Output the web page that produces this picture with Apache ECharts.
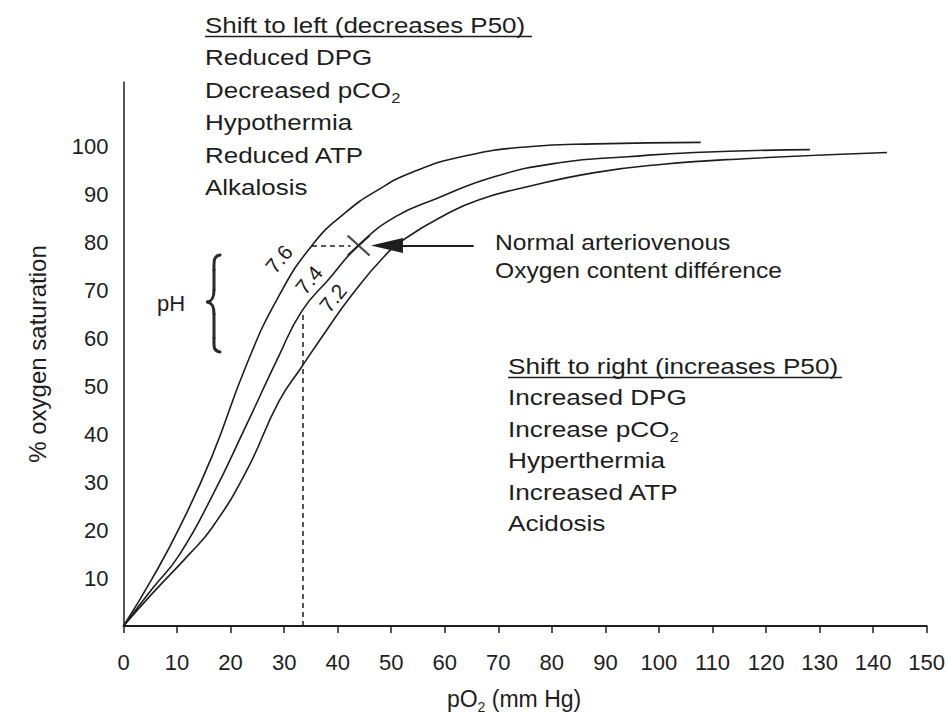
<!DOCTYPE html>
<html>
<head>
<meta charset="utf-8">
<script src="https://cdn.jsdelivr.net/npm/echarts@6/dist/echarts.min.js"></script>
<style>
html,body{margin:0;padding:0;background:#fff;}
#chart{width:948px;height:719px;}
</style>
</head>
<body>
<div id="chart"></div>
<script>
// ---------- data ----------
const xTickValues = [0,10,20,30,40,50,60,70,80,90,100,110,120,130,140,150];
const yTickLabels = [10,20,30,40,50,60,70,80,90,100];

const po2_ph76 = [0, 5.4, 10.4, 16.6, 22.9, 28.7, 35.2, 41.5, 47.7, 53.8, 63.1, 75.6, 88.1, 107.8];
const sat_ph76 = [0, 10.0, 20.4, 35.6, 54.3, 68.2, 79.4, 86.3, 91.1, 94.6, 97.9, 100.0, 100.6, 100.9];

const po2_ph74 = [0, 5.4, 10.4, 16.6, 22.9, 29.0, 33.3, 38.3, 43.9, 50.8, 58.5, 69.4, 81.7, 94.2, 106.6, 128.2];
const sat_ph74 = [0, 7.8, 14.8, 27.2, 41.8, 56.3, 65.7, 72.3, 79.4, 85.4, 89.2, 93.8, 96.7, 97.9, 98.8, 99.4];

const po2_ph72 = [0, 5.4, 12.3, 16.6, 22.9, 29.0, 33.3, 37.8, 42.6, 48.6, 52.7, 60.1, 66.3, 75.6, 88.0, 100.3, 116.0, 142.6];
const sat_ph72 = [0, 6.8, 15.0, 20.6, 32.2, 46.8, 54.1, 61.5, 69.0, 77.0, 80.9, 85.8, 88.9, 91.7, 94.6, 96.3, 97.5, 98.8];

const phLabels = ['7.6', '7.4', '7.2'];

const avPoint = [43.9, 79.4];            // "X" normal arteriovenous point
const dashHFrom = [35.2, 79.4];
const dashHTo = [42.4, 79.4];
const dashVFrom = [33.4, 0];
const dashVTo = [33.4, 65.7];
const arrowFrom = [65.4, 79.4];
const arrowTo = [49.2, 79.4];

const leftShiftLines = ['Shift to left (decreases P50)', 'Reduced DPG', '{n|Decreased pCO}{s|2}', 'Hypothermia', 'Reduced ATP', 'Alkalosis'];
const rightShiftLines = ['Shift to right (increases P50)', 'Increased DPG', '{n|Increase pCO}{s|2}', 'Hyperthermia', 'Increased ATP', 'Acidosis'];
const avLines = ['Normal arteriovenous', 'Oxygen content différence'];
const phTitle = 'pH';

// ---------- style ----------
const INK = '#1e1e1e';
const FONT = "'Liberation Sans', Arial, Helvetica, sans-serif";

function pairs(xs, ys) { return xs.map((x, i) => [x, ys[i]]); }

function lineText(str, x, baseline, sx, size) {
  size = size || 22;
  return {
    type: 'text', x: x, y: baseline - 0.31 * size, scaleX: sx, silent: true, z: 10,
    style: {
      text: str, fontSize: size, fontFamily: FONT, fill: INK, align: 'left', verticalAlign: 'middle',
      rich: {
        n: { fontSize: size, fontFamily: FONT, fill: INK, lineHeight: 30 },
        s: { fontSize: 14, fontFamily: FONT, fill: INK, lineHeight: 8, verticalAlign: 'bottom' }
      }
    }
  };
}

const graphics = [];
leftShiftLines.forEach((t, i) => graphics.push(lineText(t, 205, 32 + i * 32.5, 1.18)));
rightShiftLines.forEach((t, i) => graphics.push(lineText(t, 508, 373 + i * 31.5, 1.19)));
avLines.forEach((t, i) => graphics.push(lineText(t, 495, 249 + i * 28.5, 1.12)));
graphics.push(lineText(phTitle, 157, 310, 1.0));
// underlines
graphics.push({ type: 'line', silent: true, shape: { x1: 205, y1: 36.5, x2: 532, y2: 36.5 }, style: { stroke: INK, lineWidth: 1.5 } });
graphics.push({ type: 'line', silent: true, shape: { x1: 508, y1: 377.5, x2: 842, y2: 377.5 }, style: { stroke: INK, lineWidth: 1.5 } });
// brace "{"
const braceStyle = { stroke: '#2a2a2a', lineWidth: 3, fill: null, lineCap: 'round' };
[
  { x1: 220, y1: 255, cpx1: 213, cpy1: 256, cpx2: 214, cpy2: 262, x2: 214, y2: 270 },
  { x1: 214, y1: 290, cpx1: 214, cpy1: 298, cpx2: 212, cpy2: 301, x2: 207.5, y2: 302 },
  { x1: 207.5, y1: 302, cpx1: 212, cpy1: 303, cpx2: 214, cpy2: 306, x2: 214, y2: 314 },
  { x1: 214, y1: 338, cpx1: 214, cpy1: 346, cpx2: 213, cpy2: 351, x2: 220, y2: 352 }
].forEach(s => graphics.push({ type: 'bezierCurve', silent: true, shape: s, style: braceStyle }));
graphics.push({ type: 'line', silent: true, shape: { x1: 214, y1: 270, x2: 214, y2: 290 }, style: braceStyle });
graphics.push({ type: 'line', silent: true, shape: { x1: 214, y1: 314, x2: 214, y2: 338 }, style: braceStyle });
// pH values along curves
const phPos = [[279, 259], [309, 280], [333, 298]];
phLabels.forEach((t, i) => graphics.push({
  type: 'text', x: phPos[i][0], y: phPos[i][1], rotation: 50 * Math.PI / 180, silent: true, z: 10,
  style: { text: t, fontSize: 21, fontFamily: FONT, fill: INK, align: 'center', verticalAlign: 'middle' }
}));

const curveStyle = { color: INK, width: 1.6 };

const option = {
  animation: false,
  backgroundColor: '#ffffff',
  grid: { left: 123.5, right: 19, top: 82, bottom: 91, containLabel: false },
  xAxis: {
    type: 'value', min: 0, max: 150, interval: 10,
    name: '{n|pO}{s|2}{n| (mm Hg)}', nameLocation: 'middle', nameGap: 58,
    nameTextStyle: {
      color: INK, padding: [0, 22, 0, 0],
      rich: {
        n: { fontSize: 23, fontFamily: FONT, color: INK, lineHeight: 30 },
        s: { fontSize: 14, fontFamily: FONT, color: INK, lineHeight: 10, verticalAlign: 'bottom' }
      }
    },
    axisLine: { show: true, lineStyle: { color: INK, width: 2 } },
    axisTick: { show: true, length: 7, lineStyle: { color: INK, width: 1.5 } },
    axisLabel: { fontSize: 22, fontFamily: FONT, color: INK, margin: 25,
      formatter: v => xTickValues.indexOf(v) >= 0 ? String(v) : '' },
    splitLine: { show: false }
  },
  yAxis: {
    type: 'value', min: 0, max: 113.5, interval: 10,
    name: '% oxygen saturation', nameLocation: 'middle', nameGap: 74,
    nameTextStyle: { fontSize: 24, fontFamily: FONT, color: INK },
    axisLine: { show: true, lineStyle: { color: INK, width: 1.5 } },
    axisTick: { show: false },
    axisLabel: { fontSize: 22, fontFamily: FONT, color: INK, margin: 15,
      formatter: v => yTickLabels.indexOf(v) >= 0 ? String(v) : '' },
    splitLine: { show: false }
  },
  series: [
    { name: 'pH 7.6', type: 'line', data: pairs(po2_ph76, sat_ph76), smooth: 0.5,
      showSymbol: false, symbol: 'none', lineStyle: curveStyle, silent: true },
    { name: 'pH 7.4', type: 'line', data: pairs(po2_ph74, sat_ph74), smooth: 0.5,
      showSymbol: false, symbol: 'none', lineStyle: curveStyle, silent: true,
      markLine: {
        silent: true, symbol: ['none', 'none'], label: { show: false },
        lineStyle: { color: INK, width: 1.5, type: [5, 4] },
        data: [
          [{ coord: dashHFrom }, { coord: dashHTo }],
          [{ coord: dashVFrom }, { coord: dashVTo }],
          [{ coord: arrowFrom, symbol: 'none', lineStyle: { type: 'solid', width: 2, color: INK } },
           { coord: arrowTo, symbol: 'triangle', symbolSize: [15, 32], lineStyle: { type: 'solid', width: 2, color: INK } }]
        ]
      } },
    { name: 'pH 7.2', type: 'line', data: pairs(po2_ph72, sat_ph72), smooth: 0.5,
      showSymbol: false, symbol: 'none', lineStyle: curveStyle, silent: true },
    { name: 'Normal arteriovenous point', type: 'scatter', data: [avPoint], silent: true, z: 5,
      symbol: 'path://M0,0L10,10M10,0L0,10', symbolSize: [22, 20],
      itemStyle: { color: 'rgba(0,0,0,0)', borderColor: INK, borderWidth: 2.2 } }
  ],
  graphic: { elements: graphics }
};

const chart = echarts.init(document.getElementById('chart'), null, { renderer: 'svg' });
chart.setOption(option);
</script>
</body>
</html>
